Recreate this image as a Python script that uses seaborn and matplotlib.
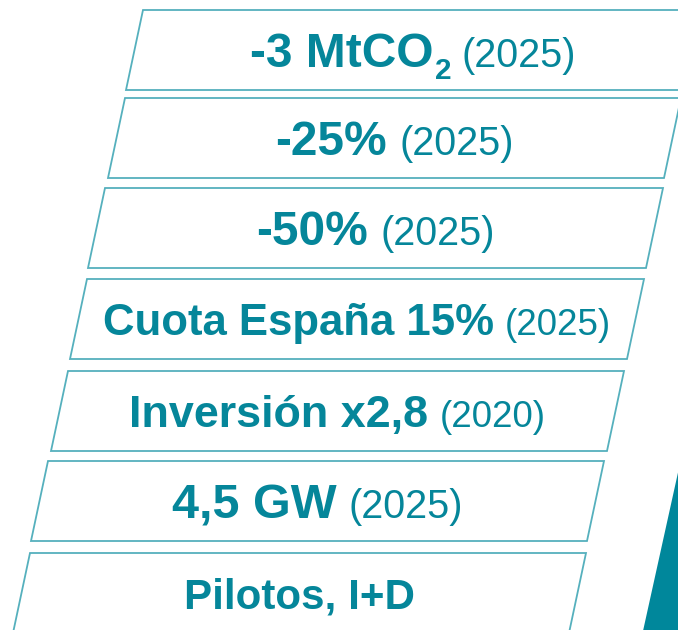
import matplotlib.pyplot as plt
import seaborn as sns
from matplotlib.patches import Polygon

# Contenido de cada franja (de arriba a abajo)
main_labels = ["-3 MtCO", "-25%", "-50%", "Cuota España 15%", "Inversión x2,8", "4,5 GW", "Pilotos, I+D"]
sub_labels = ["2", "", "", "", "", "", ""]
year_labels = ["(2025)", "(2025)", "(2025)", "(2025)", "(2020)", "(2025)", ""]

# estilo
main_sizes = [34.5, 34.5, 34.5, 31.5, 32.3, 35, 30.3]
year_sizes = [28.5, 28.5, 28.5, 26.5, 26.5, 28.5, 28]
teal = "#05869A"
edge = "#55B0BD"

sns.set_theme(style="white")
plt.rcParams["font.family"] = ["Liberation Sans", "DejaVu Sans"]

W, H = 678, 630
fig = plt.figure(figsize=(W / 100, H / 100), dpi=100)
ax = fig.add_axes([0, 0, 1, 1])
ax.set_xlim(0, W)
ax.set_ylim(H, 0)
ax.axis("off")
renderer = fig.canvas.get_renderer()

tops = [10, 98, 188, 279, 371, 461, 553]
height = 80
slant = 17
left_top = [143, 125, 105, 87, 68, 48, 30]
right_top = [700, 681, 663, 644, 624, 604, 586]

# triángulo de la esquina
ax.add_patch(Polygon([(679, 468), (643, 631), (679, 631)], closed=True,
                     facecolor="#00879B", edgecolor="none"))


def width_of(t):
    return t.get_window_extent(renderer).width


for i, lab in enumerate(main_labels):
    y0, y1 = tops[i], tops[i] + height
    lt, rt = left_top[i], right_top[i]
    pts = [(lt, y0), (rt, y0), (rt - slant, y1), (lt - slant, y1)]
    ax.add_patch(Polygon(pts, closed=True, facecolor="white", edgecolor=edge, lw=1.3))

    cx = (lt + rt - slant) / 2
    cy = (y0 + y1) / 2
    ms = main_sizes[i]
    em = ms * 100 / 72
    base = cy + 0.36 * em

    t_main = ax.text(0, base, lab, fontsize=ms, fontweight="bold", color=teal, va="baseline")
    pieces = [(t_main, 0)]
    total = width_of(t_main)
    if sub_labels[i]:
        t_sub = ax.text(0, base + 0.24 * em, sub_labels[i], fontsize=ms * 0.62,
                        fontweight="bold", color=teal, va="baseline")
        pieces.append((t_sub, 1))
        total += 1 + width_of(t_sub)
    if year_labels[i]:
        gap = 10 if sub_labels[i] else 0.3 * year_sizes[i] * 100 / 72
        t_year = ax.text(0, base, year_labels[i], fontsize=year_sizes[i], color=teal, va="baseline")
        pieces.append((t_year, gap))
        total += gap + width_of(t_year)

    x = cx - total / 2
    for t, g in pieces:
        x += g
        t.set_x(x)
        x += width_of(t)

fig.savefig("out.png", dpi=100)
